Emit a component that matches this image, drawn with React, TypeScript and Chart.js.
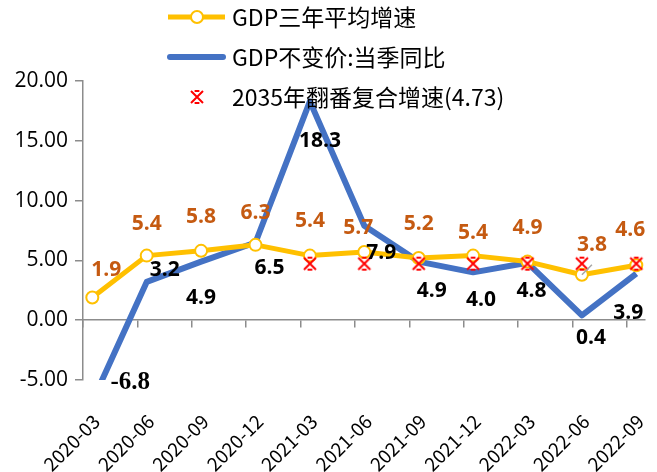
import React, { useEffect, useRef } from 'react';
import { Chart, registerables } from 'chart.js';

Chart.register(...registerables);

// ---------- data ----------
const categories = ['2020-03', '2020-06', '2020-09', '2020-12', '2021-03', '2021-06', '2021-09', '2021-12', '2022-03', '2022-06', '2022-09'];
const avgGrowth = [1.9, 5.4, 5.8, 6.3, 5.4, 5.7, 5.2, 5.4, 4.9, 3.8, 4.6];
const yoyGrowth = [-6.8, 3.2, 4.9, 6.5, 18.3, 7.9, 4.9, 4.0, 4.8, 0.4, 3.9];
const doublingRate = [null, null, null, null, 4.73, 4.73, 4.73, 4.73, 4.73, 4.73, 4.73];
const yTicks = [-5, 0, 5, 10, 15, 20];
const seriesNames = ['GDP三年平均增速', 'GDP不变价:当季同比', '2035年翻番复合增速(4.73)'];

// ---------- styles / placement ----------
const YELLOW = '#FFC000';
const BLUE = '#4472C4';
const RED = '#FF0000';
const ORANGE_TEXT = '#C55A11';
const AXIS_GRAY = '#8C8C8C';
const X_MIN = -0.171;
const X_MAX = 10.16;
const TICK_SHIFT = 0.171;
const Y_TICK_FONT = { family: "'Open Sans', 'Noto Sans CJK SC', sans-serif", size: 21 };
const X_TICK_FONT = { family: "'Noto Sans CJK SC', 'Open Sans', sans-serif", size: 19 };
const LABEL_FONT = "bold 21px 'Open Sans', sans-serif";
const LEGEND_FONT = "23px 'Noto Sans CJK SC', sans-serif";

const avgLabelOffsets = [[14, -27], [0, -32], [0, -34], [0, -32], [0, -35], [-6, -24], [0, -34], [0, -23], [0, -34], [10, -30], [-6, -35]];
const yoyLabelOffsets = [[38, -19], [18, -12], [0, 36], [14, 26], [10, 40], [17, 27], [13, 29], [8, 28], [4, 28], [9, 23], [-8, 39]];
const yoyLabelFonts: Record<number, string> = { 0: "bold 25px 'Liberation Serif', serif" };

function makeStar(color: string): HTMLCanvasElement {
  const c = document.createElement('canvas');
  c.width = 16;
  c.height = 16;
  const g = c.getContext('2d')!;
  g.strokeStyle = color;
  g.lineWidth = 2;
  g.lineCap = 'butt';
  const r = 6;
  const m = 8;
  g.beginPath();
  g.moveTo(m - r, m - r); g.lineTo(m + r, m + r);
  g.moveTo(m + r, m - r); g.lineTo(m - r, m + r);
  g.moveTo(m - r * 0.4, m - r); g.lineTo(m + r * 0.4, m - r);
  g.moveTo(m - r * 0.4, m + r); g.lineTo(m + r * 0.4, m + r);
  g.stroke();
  return c;
}

export default function App() {
  const canvasRef = useRef<HTMLCanvasElement | null>(null);

  useEffect(() => {
    document.body.style.margin = '0';
    const canvas = canvasRef.current;
    if (!canvas) return;
    const star = makeStar(RED);

    const labelPlugin = {
      id: 'pointLabels',
      afterDatasetsDraw(chart: any) {
        const ctx = chart.ctx;
        ctx.save();
        ctx.textAlign = 'center';
        ctx.textBaseline = 'middle';
        // leader line for 2022-06 average label
        const avgMeta = chart.getDatasetMeta(0);
        const p9 = avgMeta.data[9];
        ctx.strokeStyle = '#A6A6A6';
        ctx.lineWidth = 1.5;
        ctx.beginPath();
        ctx.moveTo(p9.x, p9.y);
        ctx.lineTo(p9.x + 10, p9.y - 10);
        ctx.stroke();
        avgMeta.data.forEach((pt: any, i: number) => {
          const [dx, dy] = avgLabelOffsets[i];
          ctx.font = LABEL_FONT;
          ctx.fillStyle = ORANGE_TEXT;
          ctx.fillText(avgGrowth[i].toFixed(1), pt.x + dx, pt.y + dy);
        });
        const yoyMeta = chart.getDatasetMeta(1);
        yoyMeta.data.forEach((pt: any, i: number) => {
          const [dx, dy] = yoyLabelOffsets[i];
          ctx.font = yoyLabelFonts[i] || LABEL_FONT;
          ctx.fillStyle = '#000';
          ctx.fillText(yoyGrowth[i].toFixed(1), pt.x + dx, pt.y + dy);
        });
        ctx.restore();
      },
    };

    const legendPlugin = {
      id: 'stackedLegend',
      afterDraw(chart: any) {
        const ctx = chart.ctx;
        const rows = [17, 57, 97];
        const x0 = 168, x1 = 225, cx = 197, tx = 232;
        ctx.save();
        // row 1
        ctx.strokeStyle = YELLOW; ctx.lineWidth = 5; ctx.lineCap = 'butt';
        ctx.beginPath(); ctx.moveTo(x0, rows[0]); ctx.lineTo(x1, rows[0]); ctx.stroke();
        ctx.beginPath(); ctx.arc(cx, rows[0], 6, 0, Math.PI * 2);
        ctx.fillStyle = '#fff'; ctx.fill();
        ctx.lineWidth = 2; ctx.stroke();
        // row 2
        ctx.strokeStyle = BLUE; ctx.lineWidth = 6; ctx.lineCap = 'round';
        ctx.beginPath(); ctx.moveTo(x0 + 2, rows[1]); ctx.lineTo(x1 - 2, rows[1]); ctx.stroke();
        // row 3
        ctx.drawImage(star, cx - 8, rows[2] - 8);
        ctx.font = LEGEND_FONT;
        ctx.fillStyle = '#000';
        ctx.textAlign = 'left';
        ctx.textBaseline = 'middle';
        seriesNames.forEach((name, i) => ctx.fillText(name, tx, rows[i]));
        ctx.restore();
      },
    };

    const chart = new Chart(canvas, {
      type: 'line',
      data: {
        datasets: [
          {
            label: seriesNames[0],
            data: avgGrowth.map((v, i) => ({ x: i, y: v })),
            borderColor: YELLOW,
            borderWidth: 5,
            borderJoinStyle: 'round',
            pointRadius: 6,
            pointBackgroundColor: '#FFFFFF',
            pointBorderColor: YELLOW,
            pointBorderWidth: 2,
            order: 1,
          },
          {
            label: seriesNames[1],
            data: yoyGrowth.map((v, i) => ({ x: i, y: v })),
            borderColor: BLUE,
            borderWidth: 6,
            borderJoinStyle: 'round',
            pointRadius: 0,
            clip: 0,
            order: 2,
          },
          {
            label: seriesNames[2],
            data: doublingRate.map((v, i) => ({ x: i, y: v })),
            showLine: false,
            pointStyle: star,
            pointRadius: 8,
            borderColor: RED,
            backgroundColor: RED,
            order: 0,
          },
        ],
      } as any,
      options: {
        animation: false,
        responsive: false,
        devicePixelRatio: 1,
        layout: { padding: { top: 81, right: 12, left: 0, bottom: 0 } },
        plugins: { legend: { display: false }, tooltip: { enabled: false } },
        scales: {
          x: {
            type: 'linear',
            position: 'bottom',
            min: X_MIN,
            max: X_MAX,
            afterBuildTicks: (s: any) => { s.ticks = categories.map((_, i) => ({ value: i })); },
            afterFit: (s: any) => { s.height = 92; s.paddingLeft = 0; s.paddingRight = 0; },
            ticks: {
              autoSkip: false,
              minRotation: 45,
              maxRotation: 45,
              padding: 30,
              labelOffset: 4,
              color: '#000',
              font: X_TICK_FONT,
              callback: (_v: any, i: number) => categories[i],
            },
            grid: { display: false, drawTicks: false },
            border: { display: false },
          },
          x2: {
            type: 'linear',
            axis: 'x',
            position: { y: 0 },
            min: X_MIN,
            max: X_MAX,
            afterBuildTicks: (s: any) => { s.ticks = categories.map((_, i) => ({ value: i - TICK_SHIFT })); },
            ticks: { display: false },
            grid: { drawOnChartArea: false, drawTicks: true, tickLength: 7, color: AXIS_GRAY, lineWidth: 1.5 },
            border: { display: true, color: AXIS_GRAY, width: 1.5 },
          },
          y: {
            type: 'linear',
            min: -5,
            max: 20,
            afterBuildTicks: (s: any) => { s.ticks = yTicks.map((v) => ({ value: v })); },
            afterFit: (s: any) => { s.width = 83; },
            ticks: {
              padding: 7,
              color: '#000',
              font: Y_TICK_FONT,
              callback: (v: any) => Number(v).toFixed(2),
            },
            grid: { drawOnChartArea: false, drawTicks: true, tickLength: 8, color: AXIS_GRAY, lineWidth: 1.5 },
            border: { display: true, color: AXIS_GRAY, width: 1.5 },
          },
        },
      } as any,
      plugins: [labelPlugin, legendPlugin],
    });
    return () => chart.destroy();
  }, []);

  return (
    <div style={{ width: 657, height: 472 }}>
      <canvas ref={canvasRef} width={657} height={472} style={{ display: 'block' }} />
    </div>
  );
}
